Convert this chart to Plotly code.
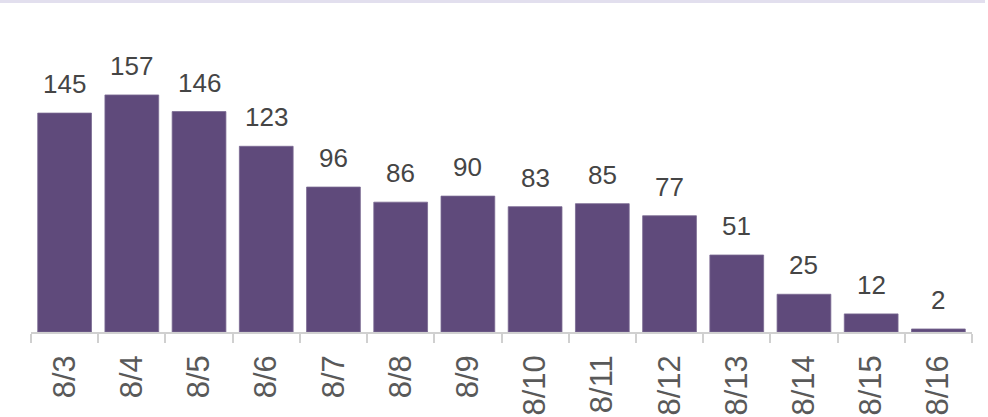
import plotly.graph_objects as go

dates = ["8/3", "8/4", "8/5", "8/6", "8/7", "8/8", "8/9", "8/10",
         "8/11", "8/12", "8/13", "8/14", "8/15", "8/16"]
counts = [145, 157, 146, 123, 96, 86, 90, 83, 85, 77, 51, 25, 12, 2]

BAR = "#5f4a7b"
FONT = "Liberation Sans"

fig = go.Figure(go.Bar(
    x=dates,
    y=counts,
    marker=dict(color=BAR, line=dict(color="#7a6a92", width=0.8)),
    hovertemplate="%{x}: %{y}<extra></extra>",
))

for d, c in zip(dates, counts):
    fig.add_annotation(
        x=d, y=c, text=str(c), showarrow=False,
        yanchor="bottom", yshift=12,
        font=dict(family=FONT, size=26, color="#454545"),
    )

# thin lavender band along the top edge
fig.add_shape(
    type="rect", xref="paper", yref="paper",
    xsizemode="pixel", ysizemode="pixel",
    xanchor=0, yanchor=1,
    x0=-31, x1=954, y0=37, y1=40,
    fillcolor="#e2dfee", line=dict(width=0),
)

fig.update_layout(
    width=988, height=417,
    margin=dict(t=40, b=85, l=31, r=16, autoexpand=False),
    paper_bgcolor="white", plot_bgcolor="white",
    bargap=0.2,
    showlegend=False,
    font=dict(family=FONT),
)
fig.update_xaxes(
    type="category",
    automargin=False,
    tickangle=-90,
    tickson="boundaries",
    ticks="outside", ticklen=9, tickcolor="#d0d0d0", tickwidth=1.5,
    ticklabelstandoff=9,
    showline=True, linecolor="#d0d0d0", linewidth=1.5,
    tickfont=dict(family=FONT, size=31, color="#595959"),
    showgrid=False,
)
fig.update_yaxes(
    range=[0, 193.4],
    visible=False,
    showgrid=False,
    zeroline=False,
)

# drop the browser's default body margin so the figure sits at the window corner
fig.write_html(
    "out.html",
    config={"displayModeBar": False},
    post_script="document.body.style.margin = '0';",
)
